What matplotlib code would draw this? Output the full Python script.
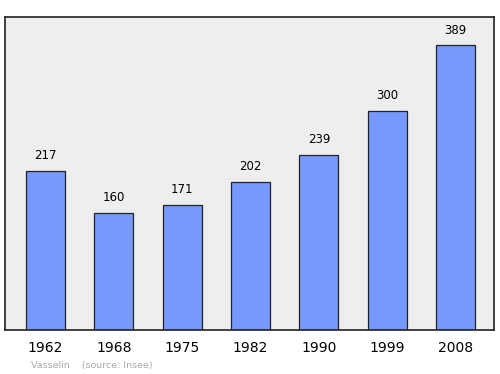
import matplotlib.pyplot as plt

# population data
years = ['1962', '1968', '1975', '1982', '1990', '1999', '2008']
population = [217, 160, 171, 202, 239, 300, 389]

fig = plt.figure(figsize=(5.0, 3.74), dpi=100)
ax = fig.add_axes([0.01, 44 / 374, 489 / 500, 313 / 374])
ax.set_facecolor('#eeeeee')

x = range(len(years))
ax.bar(x, population, width=0.57, color='#7799ff', edgecolor='#222222', linewidth=0.9)

for xi, v in zip(x, population):
    ax.text(xi, v + 12, str(v), ha='center', va='bottom', fontsize=8.5, color='black')

ax.set_xlim(-0.59, 6.56)
ax.set_ylim(0, max(population) * 1.1)
ax.set_yticks([])
ax.set_xticks(list(x))
ax.set_xticklabels(years, fontsize=10)
ax.tick_params(axis='x', length=0, pad=8)
for sp in ax.spines.values():
    sp.set_color('#222222')
    sp.set_linewidth(1.2)

fig.text(0.062, 0.016, 'Vasselin    (source: Insee)', fontsize=6.8, color='#aaaaaa')

fig.savefig('out.png', dpi=100)
